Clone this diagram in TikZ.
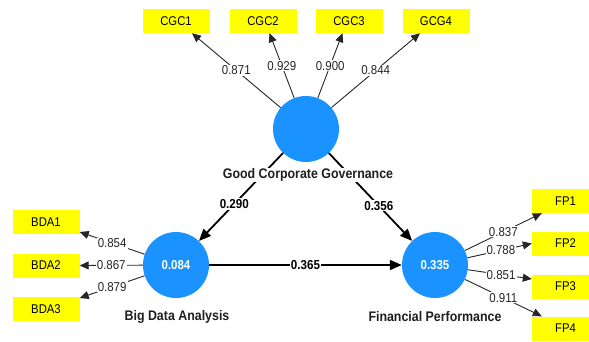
\documentclass[tikz,border=0pt]{standalone}
\usepackage{fontspec}
\setmainfont{Liberation Sans}
\usetikzlibrary{arrows.meta,calc}
\definecolor{lvblue}{HTML}{1A92FF}
\definecolor{boxyellow}{HTML}{FFFF00}
\definecolor{loadgray}{HTML}{262626}
\newcommand\vst[1]{\scalebox{1}[1.12]{#1}}
\begin{document}
\begin{tikzpicture}[x=1pt,y=-1pt,
 indbox/.style={fill=boxyellow, minimum width=67pt, minimum height=24pt, inner sep=0pt, font=\fontsize{11.3}{13}\selectfont},
 latent/.style={circle, fill=lvblue, minimum size=66pt, inner sep=0pt, text=white, font=\bfseries\fontsize{11.5}{13}\selectfont},
 loadline/.style={draw=loadgray, line width=0.9pt, -{Triangle[length=9pt,width=8pt]}},
 pathline/.style={draw=black, line width=1.8pt, -{Triangle[length=12pt,width=10pt]}},
 loadlbl/.style={fill=white, inner sep=1pt, text=loadgray, font=\fontsize{11.5}{13}\selectfont},
 pathlbl/.style={fill=white, inner sep=1pt, font=\bfseries\fontsize{11.6}{13}\selectfont},
 namelbl/.style={fill=white, inner sep=1pt, font=\bfseries\fontsize{12.4}{14}\selectfont, text=black!88}
]
\useasboundingbox (0,0) rectangle (589,341);
\clip (0,0) rectangle (589,341);
\fill[white] (0,0) rectangle (589,341);

% latent variables
\node[latent] (gcg) at (306,129) {};
\node[latent] (bda) at (176,265) {\vst{0.084}};
\node[latent] (fp)  at (435,265) {\vst{0.335}};

% indicators
\node[indbox] (c1) at (176,21) {\vst{CGC1}};
\node[indbox] (c2) at (263,21) {\vst{CGC2}};
\node[indbox] (c3) at (349,21) {\vst{CGC3}};
\node[indbox] (c4) at (436,21) {\vst{GCG4}};
\node[indbox] (b1) at (46,222) {\vst{BDA1}};
\node[indbox] (b2) at (46,265.5) {\vst{BDA2}};
\node[indbox] (b3) at (46,309) {\vst{BDA3}};
\node[indbox] (f1) at (565.5,201) {\vst{FP1}};
\node[indbox] (f2) at (565.5,243.5) {\vst{FP2}};
\node[indbox] (f3) at (565.5,286.5) {\vst{FP3}};
\node[indbox] (f4) at (565.5,328.5) {\vst{FP4}};

% arrow end points on the boxes
\coordinate (tc1) at ($(c1.south)+(16,0)$);
\coordinate (tc2) at ($(c2.south)+(6.5,0)$);
\coordinate (tc3) at ($(c3.south)+(-6.5,0)$);
\coordinate (tc4) at ($(c4.south)+(-16,0)$);
\coordinate (tb1) at ($(b1.east)+(0,10)$);
\coordinate (tb2) at (b2.east);
\coordinate (tb3) at ($(b3.east)+(0,-11)$);
\coordinate (tf1) at ($(f1.south west)+(10,0)$);
\coordinate (tf2) at (f2.west);
\coordinate (tf3) at ($(f3.west)+(0,-7.5)$);
\coordinate (tf4) at ($(f4.north west)+(10,0)$);

% outer loadings
\draw[loadline] (gcg) -- (tc1) node[loadlbl,pos=0.5] (l1) {\vst{0.871}};
\draw[loadline] (gcg) -- (tc2) node[loadlbl,pos=0.5] (l2) {\vst{0.929}};
\draw[loadline] (gcg) -- (tc3) node[loadlbl,pos=0.5] (l3) {\vst{0.900}};
\draw[loadline] (gcg) -- (tc4) node[loadlbl,pos=0.5] (l4) {\vst{0.844}};
\draw[loadline] (bda) -- (tb1) node[loadlbl,pos=0.5] (l5) {\vst{0.854}};
\draw[loadline] (bda) -- (tb2) node[loadlbl,pos=0.5] (l6) {\vst{0.867}};
\draw[loadline] (bda) -- (tb3) node[loadlbl,pos=0.5] (l7) {\vst{0.879}};
\draw[loadline] (fp) -- (tf1) node[loadlbl,pos=0.5] (l8) {\vst{0.837}};
\draw[loadline] (fp) -- (tf2) node[loadlbl,pos=0.52] (l9) {\vst{0.788}};
\draw[loadline] (fp) -- (tf3) node[loadlbl,pos=0.52] (l10) {\vst{0.851}};
\draw[loadline] (fp) -- (tf4) node[loadlbl,pos=0.5] (l11) {\vst{0.911}};

% structural paths
\draw[pathline] (gcg) -- (bda) node[pathlbl,pos=0.58] (p1) {\vst{0.290}};
\draw[pathline] (gcg) -- (fp) node[pathlbl,pos=0.6] (p2) {\vst{0.356}};
\draw[pathline] (bda) -- (fp) node[pathlbl,pos=0.5] (p3) {\vst{0.365}};

% construct names
\node[namelbl] (ngcg) at (308,175) {\vst{Good Corporate Governance}};
\node[namelbl] (nbda) at (177,317) {\vst{Big Data Analysis}};
\node[namelbl] (nfp)  at (435,317) {\vst{Financial Performance}};
\end{tikzpicture}
\end{document}
